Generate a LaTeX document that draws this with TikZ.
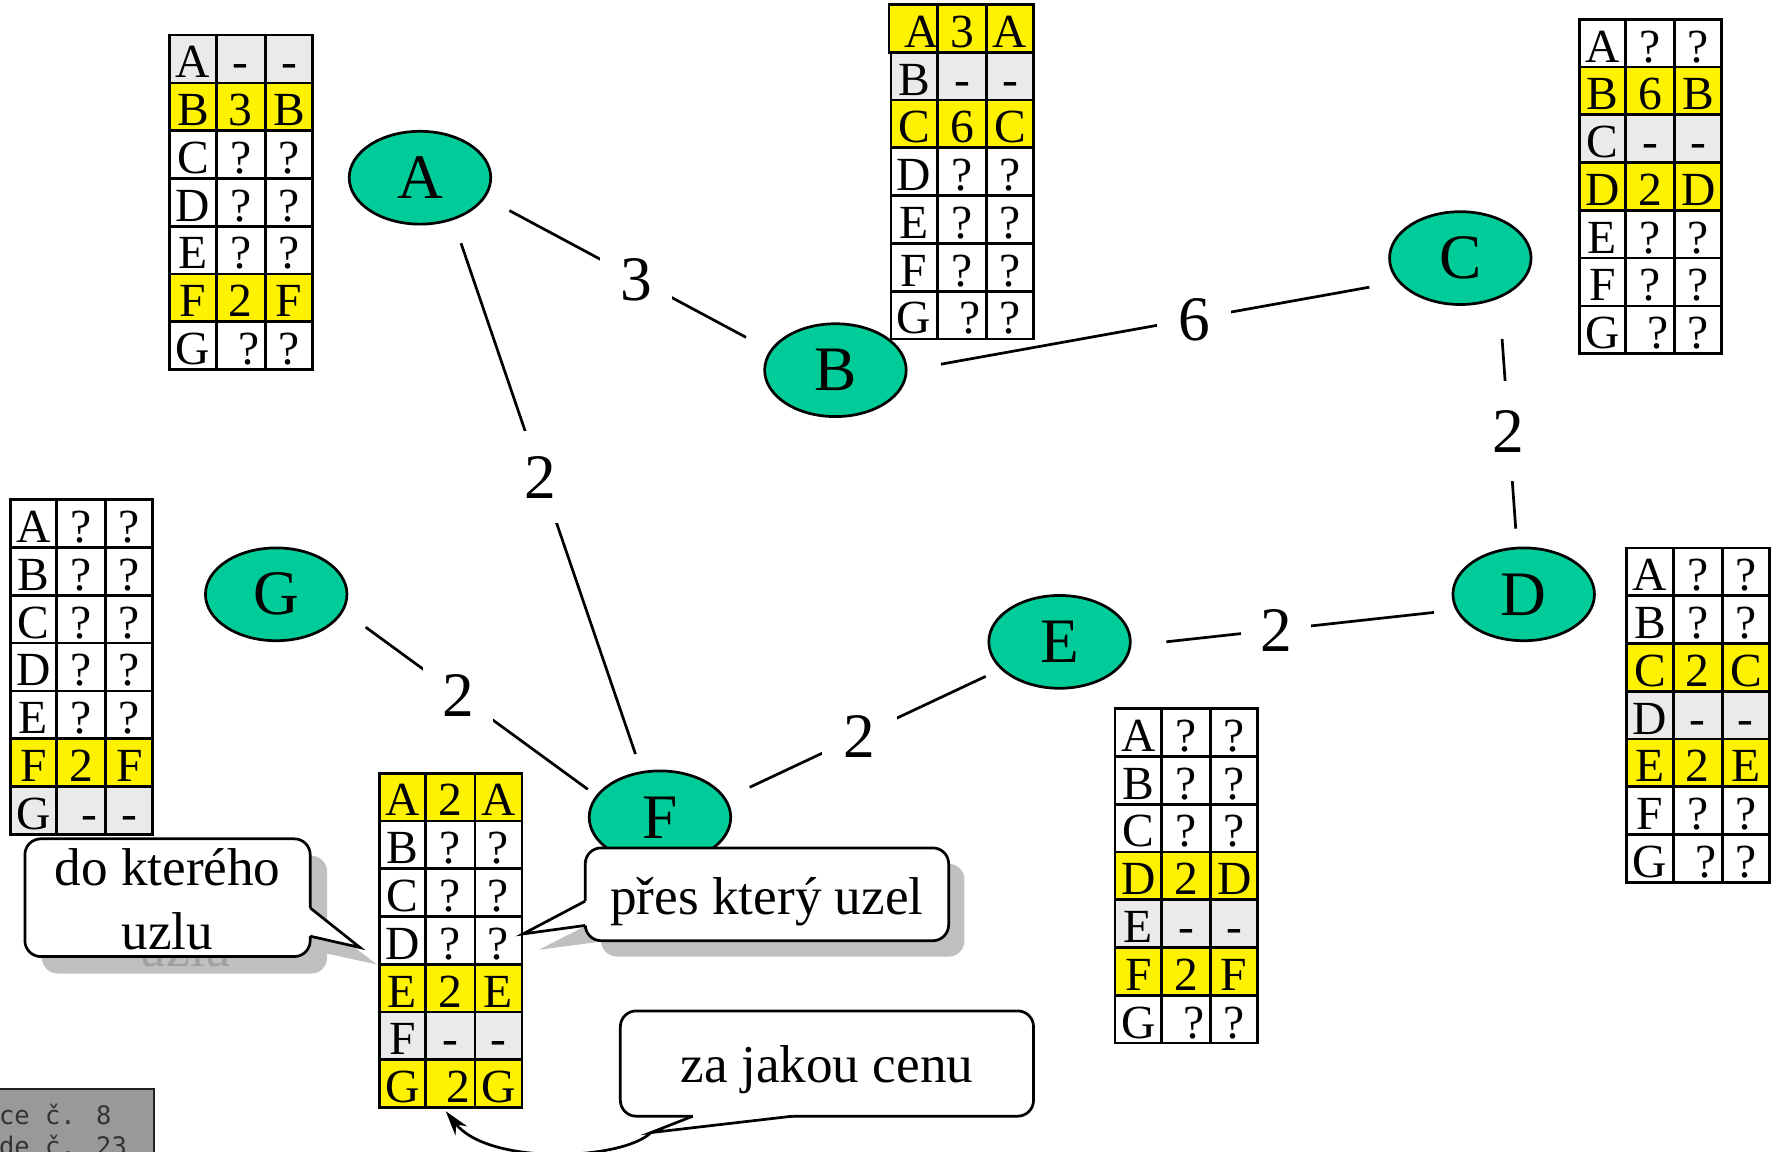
\documentclass[tikz,border=0pt]{standalone}
\usepackage{fontspec}
\setmainfont{Liberation Serif}
\newfontfamily\footmono{DejaVu Sans Mono}
\usetikzlibrary{arrows.meta,calc,shapes.geometric}
\definecolor{nodeteal}{HTML}{00CC99}
\definecolor{cellgray}{HTML}{EAEAEA}
\definecolor{shadowgray}{HTML}{C0C0C0}
\definecolor{ghostgray}{HTML}{A0A0A0}
\definecolor{footgray}{HTML}{999999}
\definecolor{footline}{HTML}{222222}
\definecolor{foottext}{HTML}{333333}
\tikzset{
 cell/.style={draw,line width=2.4pt,minimum height=42.2pt,inner sep=0pt,text height=33.4pt,text depth=0pt,font=\fontsize{42}{42}\selectfont},
 vtx/.style={ellipse,draw,line width=2.4pt,fill=nodeteal,minimum width=125pt,minimum height=82pt,inner sep=0pt,font=\fontsize{56}{56}\selectfont},
 lnk/.style={line width=2.4pt},
 wlbl/.style={fill=white,inner sep=#1,font=\fontsize{56}{56}\selectfont,text height=38pt,text depth=0pt},
 wlbl/.default=18pt,
 ctext/.style={anchor=base,font=\fontsize{47}{47}\selectfont,inner sep=0pt},
 cbox/.style={draw,fill=white,line width=2.4pt,rounded corners=14pt},
 footfont/.style={anchor=base west,inner sep=0pt,font=\footmono\fontsize{22.5}{22.5}\selectfont,text=foottext},
}
\newcommand\gsh{\hspace*{14pt}}
\newcommand\trow[6]{%
 \node[cell,fill=#3,minimum width=41pt] (#1-#2-1) at (20.5,{#2*42.2+21.1}) {#4};
 \node[cell,fill=#3,minimum width=43.5pt] (#1-#2-2) at (62.75,{#2*42.2+21.1}) {#5};
 \node[cell,fill=#3,minimum width=41.5pt] (#1-#2-3) at (105.25,{#2*42.2+21.1}) {#6};
}
\begin{document}
\begin{tikzpicture}[x=1pt,y=-1pt]
\useasboundingbox (0,0) rectangle (1568,1017.6);

% vertices
\node[vtx] (A) at (371,157) {A};
\node[vtx] (B) at (738,327) {B};
\node[vtx] (C) at (1290,228) {C};
\node[vtx] (D) at (1346,525) {D};
\node[vtx] (E) at (936,567) {E};
\node[vtx] (F) at (583,722) {F};
\node[vtx] (G) at (244,525) {G};

% edges
\draw[lnk,shorten <=24pt,shorten >=24pt] (A.-17.3) -- node[wlbl=18pt,pos=.53] (lAB) {3} (B.163.6);
\draw[lnk,shorten <=21.5pt,shorten >=16pt] (A.-52.7) -- node[wlbl=22pt,pos=.466] (lAF) {2} (F.112.2);
\draw[lnk,shorten <=30pt,shorten >=25.6pt] (B.0) -- node[wlbl=19pt,pos=.584] (lBC) {6} (C.201);
\draw[lnk,shorten <=36pt,shorten >=16pt] (C.-46.6) -- node[wlbl=25pt,pos=.533] (lCD) {2} (D.98);
\draw[lnk,shorten <=19.3pt,shorten >=31pt] (D.193.3) -- node[wlbl=17pt,pos=.554] (lDE) {2} (E.-3);
\draw[lnk,shorten <=14.5pt,shorten >=23pt] (E.205.2) -- node[wlbl=19.5pt,pos=.514] (lEF) {2} (F.16.8);
\draw[lnk,shorten <=24pt,shorten >=9pt] (G.-14.3) -- node[wlbl=16.7pt,pos=.454] (lGF) {2} (F.161.4);

% callout shadows
\fill[shadowgray,rounded corners=14pt] (37,756) rectangle (289,860);
\fill[shadowgray] (287,817) -- (333,852) -- (287,842) -- cycle;
\node[ctext,text=ghostgray] (c1ghost) at (164,853.5) {uzlu};
\fill[shadowgray,rounded corners=14pt] (531,763) rectangle (852,845);
\fill[shadowgray] (533,810) -- (476,839) -- (533,831.5) -- cycle;

% tables
\begin{scope}[shift={(150,31)}]
 \trow{TA}{0}{cellgray}{A}{-}{-}
 \trow{TA}{1}{yellow}{B}{3}{B}
 \trow{TA}{2}{white}{C}{?}{?}
 \trow{TA}{3}{white}{D}{?}{?}
 \trow{TA}{4}{white}{E}{?}{?}
 \trow{TA}{5}{yellow}{F}{2}{F}
 \trow{TA}{6}{white}{G}{\gsh ?}{?}
\end{scope}
\begin{scope}[shift={(787,4)}]
 \trow{TB}{0}{yellow}{\gsh A}{3}{A}
 \trow{TB}{1}{cellgray}{B}{-}{-}
 \trow{TB}{2}{yellow}{C}{6}{C}
 \trow{TB}{3}{white}{D}{?}{?}
 \trow{TB}{4}{white}{E}{?}{?}
 \trow{TB}{5}{white}{F}{?}{?}
 \trow{TB}{6}{white}{G}{\gsh ?}{?}
\end{scope}
\begin{scope}[shift={(1395,17)}]
 \trow{TC}{0}{white}{A}{?}{?}
 \trow{TC}{1}{yellow}{B}{6}{B}
 \trow{TC}{2}{cellgray}{C}{-}{-}
 \trow{TC}{3}{yellow}{D}{2}{D}
 \trow{TC}{4}{white}{E}{?}{?}
 \trow{TC}{5}{white}{F}{?}{?}
 \trow{TC}{6}{white}{G}{\gsh ?}{?}
\end{scope}
\begin{scope}[shift={(9,441.5)}]
 \trow{TG}{0}{white}{A}{?}{?}
 \trow{TG}{1}{white}{B}{?}{?}
 \trow{TG}{2}{white}{C}{?}{?}
 \trow{TG}{3}{white}{D}{?}{?}
 \trow{TG}{4}{white}{E}{?}{?}
 \trow{TG}{5}{yellow}{F}{2}{F}
 \trow{TG}{6}{cellgray}{G}{\gsh -}{-}
\end{scope}
\begin{scope}[shift={(335,683)}]
 \trow{TF}{0}{yellow}{A}{2}{A}
 \trow{TF}{1}{white}{B}{?}{?}
 \trow{TF}{2}{white}{C}{?}{?}
 \trow{TF}{3}{white}{D}{?}{?}
 \trow{TF}{4}{yellow}{E}{2}{E}
 \trow{TF}{5}{cellgray}{F}{-}{-}
 \trow{TF}{6}{yellow}{G}{\gsh 2}{G}
\end{scope}
\begin{scope}[shift={(985,626)}]
 \trow{TE}{0}{white}{A}{?}{?}
 \trow{TE}{1}{white}{B}{?}{?}
 \trow{TE}{2}{white}{C}{?}{?}
 \trow{TE}{3}{yellow}{D}{2}{D}
 \trow{TE}{4}{cellgray}{E}{-}{-}
 \trow{TE}{5}{yellow}{F}{2}{F}
 \trow{TE}{6}{white}{G}{\gsh ?}{?}
\end{scope}
\begin{scope}[shift={(1437,484)}]
 \trow{TD}{0}{white}{A}{?}{?}
 \trow{TD}{1}{white}{B}{?}{?}
 \trow{TD}{2}{yellow}{C}{2}{C}
 \trow{TD}{3}{cellgray}{D}{-}{-}
 \trow{TD}{4}{yellow}{E}{2}{E}
 \trow{TD}{5}{white}{F}{?}{?}
 \trow{TD}{6}{white}{G}{\gsh ?}{?}
\end{scope}

% callout 1
\draw[cbox] (22,741) rectangle (274,845);
\fill[white] (269,802) -- (274,802) -- (318,837) -- (274,827) -- (269,827) -- cycle;
\draw[lnk] (274,802) -- (318,837) -- (274,827);
\node[ctext] (c1a) at (148,782.5) {do kterého};
\node[ctext] (c1b) at (148,838.5) {uzlu};

% callout 2
\draw[cbox] (517,749) rectangle (838,831);
\fill[white] (522,796) -- (517,796) -- (462,825) -- (517,817.5) -- (522,817.5) -- cycle;
\draw[lnk] (517,796) -- (462,825) -- (517,817.5);
\node[ctext] (c2) at (677.5,807.8) {přes který uzel};

% callout 3
\draw[cbox] (548,893) rectangle (913,986);
\fill[white] (612,981) -- (612,986) -- (575,1000.5) -- (700,986) -- (700,981) -- cycle;
\draw[lnk] (612,986) -- (575,1000.5) -- (700,986);
\node[ctext] (c3) at (730.5,956.4) {za jakou cenu};
\coordinate (c3tip) at (575,1000.5);
\draw[lnk,-{Stealth[length=22pt,width=13pt,inset=7pt]}] (c3tip) .. controls (550,1025) and (432,1030) .. ($(TF-6-2.south)+(-4,2)$);

% footer
\fill[footgray] (-5,962) rectangle (136,1025);
\draw[line width=2pt,color=footline] (-5,962) -- (136,962) -- (136,1025);
\node[footfont] (ft1) at (-1,993.5) {ce č. 8};
\node[footfont] (ft2) at (-1,1020.5) {de č. 23};
\end{tikzpicture}
\end{document}
